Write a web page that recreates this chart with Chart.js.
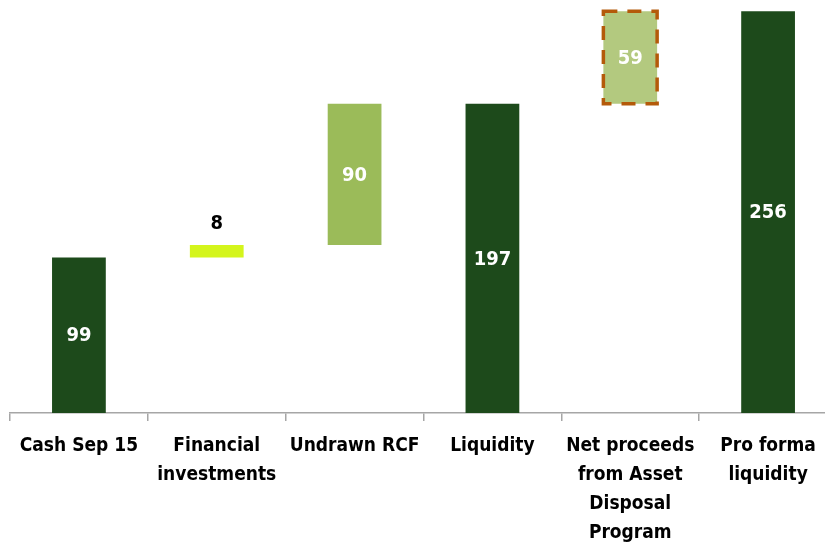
<!DOCTYPE html>
<html>
<head>
<meta charset="utf-8">
<script src="https://cdn.jsdelivr.net/npm/chart.js@4/dist/chart.umd.min.js"></script>
<style>
  html, body { margin: 0; padding: 0; overflow: hidden; background: #fff; }
  #wrap { width: 825px; height: 545px; overflow: hidden; }
</style>
</head>
<body>
<div id="wrap"><canvas id="chart" width="840" height="545"></canvas></div>
<script>
// Liquidity bridge (EUR m)
const categories = [
  ['Cash Sep 15'],
  ['Financial', 'investments'],
  ['Undrawn RCF'],
  ['Liquidity'],
  ['Net proceeds', 'from Asset', 'Disposal', 'Program'],
  ['Pro forma', 'liquidity']
];
const values = [99, 8, 90, 197, 59, 256];
const isTotal = [true, false, false, true, false, true];
const barColors = ['#1d4a1b', '#d4f51c', '#9bbb59', '#1d4a1b', '#b3c97f', '#1d4a1b'];

// floating ranges: totals start at 0, steps start at running total
let running = 0;
const ranges = values.map((v, i) => {
  if (isTotal[i]) { running = v; return [0, v]; }
  const r = [running, running + v];
  running += v;
  return r;
});

const FONT = "'Liberation Sans Narrow', 'DejaVu Sans Condensed', 'Liberation Sans', sans-serif";

// dashed outline for the pro forma step (Chart.js bars have no borderDash)
const dashedBox = {
  id: 'dashedBox',
  afterDatasetsDraw(chart) {
    const bar = chart.getDatasetMeta(0).data[4];
    const { x, y, base, width } = bar.getProps(['x', 'y', 'base', 'width'], true);
    const ctx = chart.ctx;
    ctx.save();
    ctx.strokeStyle = '#b45a0a';
    ctx.lineWidth = 3.5;
    ctx.setLineDash([14, 10]);
    ctx.strokeRect(x - width / 2, Math.min(y, base), width, Math.abs(base - y));
    ctx.restore();
  }
};

const valueLabels = {
  id: 'valueLabels',
  afterDatasetsDraw(chart) {
    const ctx = chart.ctx;
    const meta = chart.getDatasetMeta(0);
    ctx.save();
    ctx.font = 'bold 20px ' + FONT;
    ctx.textAlign = 'center';
    ctx.textBaseline = 'middle';
    meta.data.forEach((bar, i) => {
      const { x, y, base } = bar.getProps(['x', 'y', 'base'], true);
      const top = Math.min(y, base), bot = Math.max(y, base);
      if (bot - top < 30) {
        ctx.fillStyle = '#000';
        ctx.fillText(values[i], x, top - 21);
      } else {
        ctx.fillStyle = '#fff';
        ctx.fillText(values[i], x, (top + bot) / 2 + 1);
      }
    });
    ctx.restore();
  }
};

new Chart(document.getElementById('chart'), {
  type: 'bar',
  data: {
    labels: categories,
    datasets: [{
      data: ranges,
      backgroundColor: barColors,
      borderWidth: 0,
      borderSkipped: false,
      barPercentage: 0.39,
      categoryPercentage: 1
    }]
  },
  options: {
    responsive: false,
    animation: false,
    layout: { padding: { left: 10, right: 3, top: 8, bottom: 0 } },
    scales: {
      x: {
        afterFit: s => { s.height = 132; },
        border: { display: true, color: '#a6a6a6', width: 1.5 },
        grid: { offset: true, drawOnChartArea: false, drawTicks: true, tickLength: 8, color: '#a6a6a6', lineWidth: 1.5 },
        ticks: {
          color: '#000',
          padding: 11,
          maxRotation: 0,
          autoSkip: false,
          font: { family: FONT, size: 19, weight: 'bold', lineHeight: 1.52 }
        }
      },
      y: { display: false, min: 0, max: 258 }
    },
    plugins: { legend: { display: false }, tooltip: { enabled: false } }
  },
  plugins: [dashedBox, valueLabels]
});
</script>
</body>
</html>
